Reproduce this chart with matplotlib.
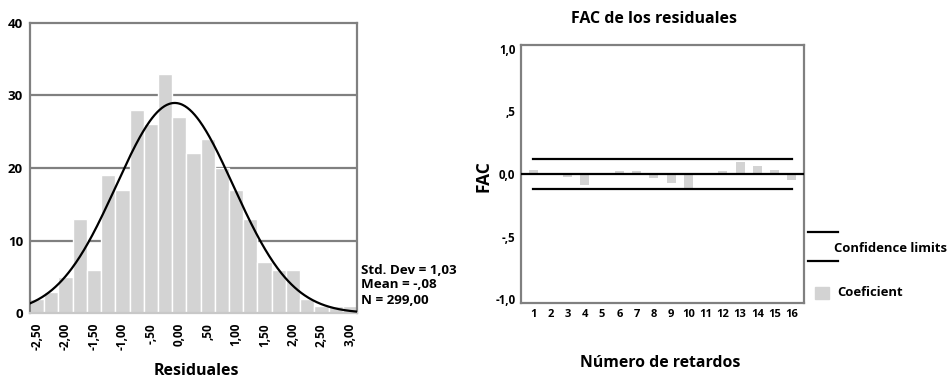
import numpy as np
import matplotlib
matplotlib.use("Agg")
import matplotlib.pyplot as plt
from matplotlib.patches import Rectangle
from matplotlib.lines import Line2D

# ---------------- data ----------------
bin_centers = [-2.50, -2.25, -2.00, -1.75, -1.50, -1.25, -1.00, -0.75, -0.50, -0.25,
               0.00, 0.25, 0.50, 0.75, 1.00, 1.25, 1.50, 1.75, 2.00, 2.25, 2.50, 2.75, 3.00]
counts = [2, 3, 5, 13, 6, 19, 17, 28, 26, 33, 27, 22, 24, 20, 17, 13, 7, 6, 6, 2, 1, 1, 1]
hist_tick_values = [-2.5, -2.0, -1.5, -1.0, -0.5, 0.0, 0.5, 1.0, 1.5, 2.0, 2.5, 3.0]
hist_tick_labels = ["-2,50", "-2,00", "-1,50", "-1,00", "-,50", "0,00", ",50",
                    "1,00", "1,50", "2,00", "2,50", "3,00"]
hist_y_ticks = [0, 10, 20, 30, 40]
std_dev = 1.03
mean = -0.08
n_obs = 299
bin_width = 0.25

lags = list(range(1, 17))
acf_values = [0.032, 0.0, -0.021, -0.085, 0.0, 0.024, 0.024, -0.029,
              -0.069, -0.117, 0.0, 0.024, 0.096, 0.066, 0.032, -0.045]
conf_limit = 0.122
acf_y_ticks = [-1.0, -0.5, 0.0, 0.5, 1.0]
acf_y_labels = ["-1,0", "-,5", "0,0", ",5", "1,0"]

# ---------------- figure ----------------
W, H = 949, 379
plt.rcParams['font.family'] = ['Open Sans', 'DejaVu Sans']
plt.rcParams['font.weight'] = 'bold'
fig = plt.figure(figsize=(W / 100, H / 100), dpi=100)


def rect(x0, y0, x1, y1):
    return [x0 / W, 1 - y1 / H, (x1 - x0) / W, (y1 - y0) / H]


def fpos(x, y):
    return x / W, 1 - y / H


GRAY = '#808080'
BAR = '#d3d3d3'

# ---------- histogram ----------
ax1 = fig.add_axes(rect(30, 22.7, 357, 313.3))
ax1.set_xlim(-2.625, 3.125)
ax1.set_ylim(0, 40)
for gy in [10, 20, 30]:
    ax1.axhline(gy, color=GRAY, lw=1.6, zorder=1)
ax1.bar(bin_centers, counts, width=bin_width, color=BAR, edgecolor='white',
        linewidth=1.0, zorder=2)
xs = np.linspace(-2.625, 3.125, 400)
curve = n_obs * bin_width / (std_dev * np.sqrt(2 * np.pi)) * np.exp(-0.5 * ((xs - mean) / std_dev) ** 2)
ax1.plot(xs, curve, color='black', lw=1.6, zorder=3)
ax1.set_xticks(hist_tick_values)
ax1.set_xticklabels(hist_tick_labels, rotation=90, fontsize=8.5, fontweight='bold')
ax1.set_yticks(hist_y_ticks)
ax1.set_yticklabels([str(v) for v in hist_y_ticks], fontsize=9.5, fontweight='bold')
ax1.tick_params(axis='both', length=0)
ax1.tick_params(axis='x', pad=7)
ax1.tick_params(axis='y', pad=5)
for s in ax1.spines.values():
    s.set_color(GRAY)
    s.set_linewidth(1.6)
ax1.spines['bottom'].set_color('#c8c8c8')

fig.text(*fpos(196, 371), "Residuales", ha='center', va='center', fontsize=11.5, fontweight='bold')
fig.text(*fpos(361, 270), "Std. Dev = 1,03", ha='left', va='center', fontsize=9.6, fontweight='bold')
fig.text(*fpos(361, 285), "Mean = -,08", ha='left', va='center', fontsize=9.6, fontweight='bold')
fig.text(*fpos(361, 300), "N = 299,00", ha='left', va='center', fontsize=9.6, fontweight='bold')

# ---------- ACF ----------
ax2 = fig.add_axes(rect(521, 45, 804, 303))
ax2.set_xlim(0.3, 16.7)
ax2.set_ylim(-1.028, 1.028)
ax2.bar(lags, acf_values, width=0.52, color=BAR, edgecolor='none', zorder=2)
ax2.axhline(0, color='black', lw=1.6, zorder=3)
ax2.plot([lags[0], lags[-1]], [conf_limit, conf_limit], color='black', lw=1.6, zorder=3)
ax2.plot([lags[0], lags[-1]], [-conf_limit, -conf_limit], color='black', lw=1.6, zorder=3)
ax2.set_xticks(lags)
ax2.set_xticklabels([str(l) for l in lags], fontsize=8, fontweight='bold')
ax2.set_yticks(acf_y_ticks)
ax2.set_yticklabels(acf_y_labels, fontsize=8.3, fontweight='bold')
ax2.tick_params(axis='both', length=0)
ax2.tick_params(axis='x', pad=4)
ax2.tick_params(axis='y', pad=4)
for s in ax2.spines.values():
    s.set_color(GRAY)
    s.set_linewidth(1.6)

fig.text(*fpos(654, 19), "FAC de los residuales", ha='center', va='center', fontsize=11.5, fontweight='bold')
fig.text(*fpos(660, 363), "Número de retardos", ha='center', va='center', fontsize=11.4, fontweight='bold')
fig.text(*fpos(483, 176), "FAC", ha='center', va='center', rotation=90, fontsize=12.5, fontweight='bold')

# legend
fig.add_artist(Line2D([808 / W, 838 / W], [1 - 231.7 / H, 1 - 231.7 / H], color='black', lw=1.6))
fig.add_artist(Line2D([808 / W, 838 / W], [1 - 260.7 / H, 1 - 260.7 / H], color='black', lw=1.6))
fig.text(*fpos(834, 248), "Confidence limits", ha='left', va='center', fontsize=9.4, fontweight='bold')
fig.add_artist(Rectangle((815 / W, 1 - 299 / H), 14 / W, 12 / H, color=BAR, transform=fig.transFigure))
fig.text(*fpos(837, 293), "Coeficient", ha='left', va='center', fontsize=9.4, fontweight='bold')

fig.savefig("out.png", dpi=100)
